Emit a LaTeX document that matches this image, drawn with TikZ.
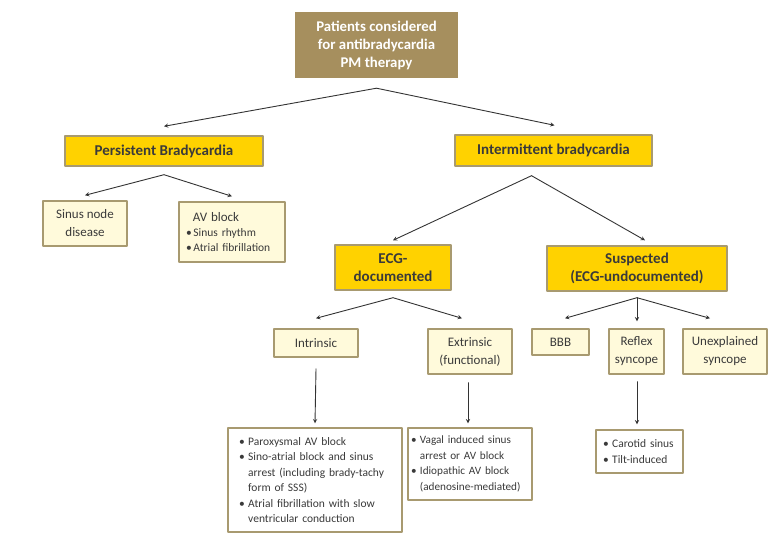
\documentclass[tikz,border=0pt]{standalone}
\usepackage{fontspec}
\setmainfont{Carlito}
\definecolor{roottan}{HTML}{A68F5E}
\definecolor{mainyellow}{HTML}{FFD200}
\definecolor{subcream}{HTML}{FFFADB}
\definecolor{boxline}{HTML}{A89A70}
\definecolor{textgray}{HTML}{3A3A3A}
\definecolor{linegray}{HTML}{333333}
\newcommand\bul{\makebox[0.8em][l]{\textbullet}}
\newcommand\ind{\hspace*{0.8em}}
\tikzset{
	box/.style={draw=boxline, line width=1.4pt, inner sep=0pt, align=center, text=textgray},
	boxsize/.style 2 args={minimum width=#1, minimum height=#2},
	rootbox/.style={fill=roottan, inner sep=0pt, align=center, text=white, font=\bfseries\fontsize{14.8}{18}\selectfont},
	mainbox/.style={box, fill=mainyellow, font=\bfseries\fontsize{15}{18}\selectfont},
	subbox/.style={box, fill=subcream, font=\fontsize{13}{18}\selectfont},
	listbox/.style={box, fill=white, align=left, font=\fontsize{11.5}{15.5}\selectfont},
	link/.style={->, draw=linegray, line width=0.9pt},
}
\begin{document}
\begin{tikzpicture}[x=1pt,y=-1pt,>=stealth, line join=round, line cap=round]
	\useasboundingbox (0,0) rectangle (771,538);
	% root
	\node[rootbox, boxsize={163}{66}] (root) at (376.5,45) {Patients considered\\for antibradycardia\\PM therapy};
	% level 1
	\node[mainbox, boxsize={198}{30}] (pers) at (164,151) {Persistent Bradycardia};
	\node[mainbox, boxsize={197}{31}] (inter) at (553.5,150.5) {Intermittent bradycardia};
	% persistent branch
	\node[subbox, boxsize={84}{45}] (sinus) at (85,223.5) {Sinus node\\disease};
	\node[subbox, boxsize={106}{60}, align=left, text width=92, font=\fontsize{11.5}{15}\selectfont] (av) at (232,232) {\hspace*{0.6em}{\fontsize{13}{15}\selectfont AV block}\\\makebox[0.65em][l]{\textbullet}Sinus rhythm\\\makebox[0.65em][l]{\textbullet}Atrial fibrillation};
	% intermittent branch
	\node[mainbox, boxsize={116}{45}] (ecg) at (393,267.5) {ECG-\\documented};
	\node[mainbox, boxsize={180}{45}] (susp) at (637,268.5) {Suspected\\(ECG-undocumented)};
	\node[subbox, boxsize={84}{28}] (intr) at (316,343) {Intrinsic};
	\node[subbox, boxsize={84}{45}] (extr) at (470,351.5) {Extrinsic\\(functional)};
	\node[subbox, boxsize={57}{26}] (bbb) at (560.5,342) {BBB};
	\node[subbox, boxsize={55}{45}] (refl) at (636.5,351.5) {Reflex\\syncope};
	\node[subbox, boxsize={84}{45}] (unex) at (725,351.5) {Unexplained\\syncope};
	% lists
	\node[listbox, boxsize={174}{104}, text width=152] (intrlist) at (315,480) {\bul Paroxysmal AV block\\\bul Sino-atrial block and sinus\\\ind arrest (including brady-tachy\\\ind form of SSS)\\\bul Atrial fibrillation with slow\\\ind ventricular conduction};
	\node[listbox, boxsize={124}{72}, text width=118, font=\fontsize{11.2}{15.5}\selectfont] (extrlist) at (470,464) {\bul Vagal induced sinus\\\ind arrest or AV block\\\bul Idiopathic AV block\\\ind (adenosine-mediated)};
	\node[listbox, boxsize={87}{43}, text width=73] (carot) at (639.5,451.5) {\bul Carotid sinus\\\bul Tilt-induced};
	% forks
	\coordinate (rootfork) at ([yshift=-10pt]root.south);
	\coordinate (persfork) at ([yshift=-8pt]pers.south);
	\coordinate (interfork) at ([xshift=-22pt,yshift=-9pt]inter.south);
	\coordinate (ecgfork) at ([yshift=-7pt]ecg.south);
	\coordinate (suspfork) at ([yshift=-6pt]susp.south);
	% connectors
	\draw[link] (rootfork) -- ([yshift=9pt]pers.north);
	\draw[link] (rootfork) -- ([xshift=1pt,yshift=9pt]inter.north);
	\draw[link] (persfork) -- ([yshift=5pt]sinus.north);
	\draw[link] (persfork) -- ([yshift=5pt]av.north);
	\draw[link] (interfork) -- ([yshift=4pt]ecg.north);
	\draw[link] (interfork) -- ([xshift=8pt,yshift=5pt]susp.north);
	\draw[link] (ecgfork) -- ([yshift=10pt]intr.north);
	\draw[link] (ecgfork) -- ([xshift=-8pt,yshift=10pt]extr.north);
	\draw[link] (suspfork) -- ([xshift=4.5pt,yshift=10pt]bbb.north);
	\draw[link] (suspfork) -- ([xshift=0.5pt,yshift=7pt]refl.north);
	\draw[link] (suspfork) -- ([xshift=-15pt,yshift=10pt]unex.north);
	\draw[link] ([yshift=-11pt]intr.south) -- ([yshift=4pt]intrlist.north);
	\draw[link] ([xshift=-2pt,yshift=-8pt]extr.south) -- ([xshift=-2pt,yshift=4pt]extrlist.north);
	\draw[link] ([xshift=0.5pt,yshift=-7pt]refl.south) -- ([xshift=-2.5pt,yshift=5pt]carot.north);
\end{tikzpicture}
\end{document}
